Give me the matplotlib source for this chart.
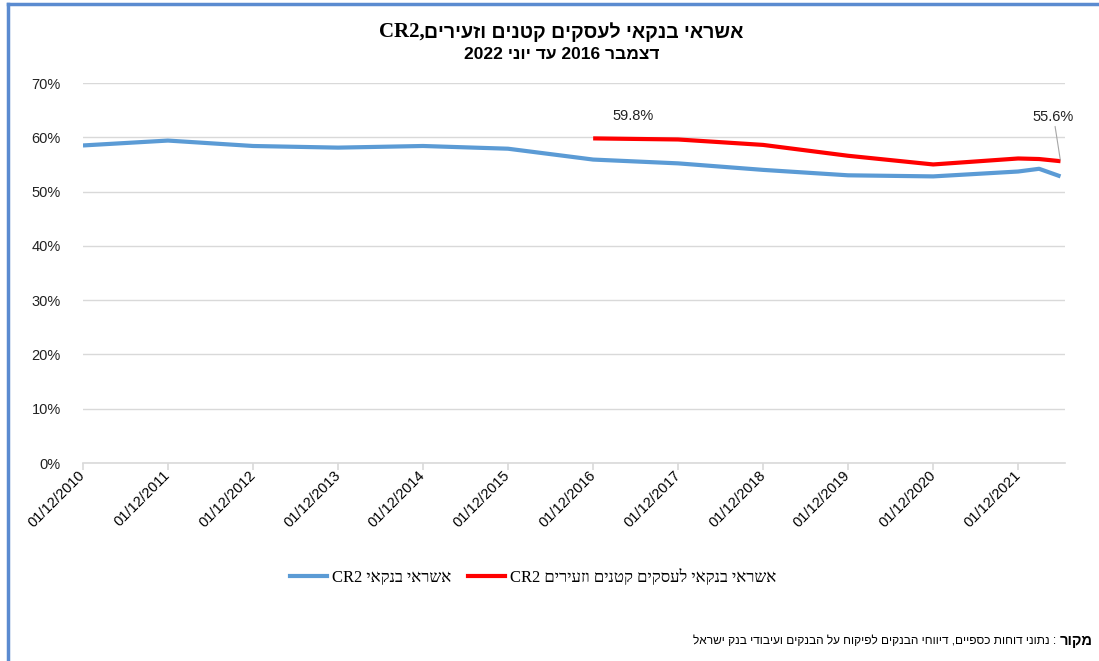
import re
import datetime as dt
import matplotlib
matplotlib.use("Agg")
import matplotlib.pyplot as plt
import matplotlib.dates as mdates
from matplotlib.lines import Line2D
from matplotlib.ticker import FuncFormatter

# נתונים (אחוזים)
blue_dates = [dt.date(y, 12, 1) for y in range(2010, 2022)] + [dt.date(2022, 3, 1), dt.date(2022, 6, 1)]
blue_vals = [58.5, 59.4, 58.4, 58.1, 58.4, 57.9, 55.9, 55.2, 54.0, 53.0, 52.8, 53.7, 54.2, 52.8]

red_dates = [dt.date(y, 12, 1) for y in range(2016, 2022)] + [dt.date(2022, 3, 1), dt.date(2022, 6, 1)]
red_vals = [59.8, 59.6, 58.6, 56.6, 55.0, 56.1, 56.0, 55.6]

tick_dates = [dt.date(y, 12, 1) for y in range(2010, 2022)]

title_latin = "CR2,"
title_hebrew = "אשראי בנקאי לעסקים קטנים וזעירים"
title_2 = "דצמבר 2016 עד יוני 2022"
blue_name = "אשראי בנקאי CR2"
red_name = "אשראי בנקאי לעסקים קטנים וזעירים CR2"
source_bold = "מקור"
source_text = " : נתוני דוחות כספיים, דיווחי הבנקים לפיקוח על הבנקים ועיבודי בנק ישראל"

BLUE = "#5B9BD5"
RED = "#FF0000"
GRID = "#D9D9D9"
SERIF = ["Liberation Serif", "DejaVu Sans"]
SANS = ["Liberation Sans", "DejaVu Sans"]


def visual(s):
    # matplotlib אינו תומך בכיווניות - הופכים את המחרוזת ומשאירים רצפים לטיניים/מספרים
    rev = s[::-1]
    return re.sub(r"[A-Za-z0-9.%/]+", lambda m: m.group(0)[::-1], rev)


fig = plt.figure(figsize=(10.99, 6.61), dpi=100)
ax = fig.add_axes([0.0755, 0.2995, 0.8935, 0.5749])

ax.plot(blue_dates, blue_vals, color=BLUE, lw=3.0, solid_capstyle="butt")
ax.plot(red_dates, red_vals, color=RED, lw=3.0, solid_capstyle="butt")

ax.set_ylim(0, 70)
ax.set_yticks(range(0, 71, 10))
ax.yaxis.set_major_formatter(FuncFormatter(lambda v, p: f"{v:.0f}%"))
ax.set_xlim(dt.date(2010, 12, 1), dt.date(2022, 6, 20))
ax.set_xticks(tick_dates)
ax.xaxis.set_major_formatter(mdates.DateFormatter("%d/%m/%Y"))

ax.grid(axis="y", color=GRID, lw=1.0)
ax.set_axisbelow(True)
for s in ["top", "right", "left"]:
    ax.spines[s].set_visible(False)
ax.spines["bottom"].set_color(GRID)
ax.spines["bottom"].set_linewidth(1.2)
ax.tick_params(axis="y", length=0, pad=16, labelsize=10.5, labelcolor="#222222")
ax.tick_params(axis="x", length=5, color=GRID, width=1.2, labelsize=10.5, pad=2)
for lab in ax.get_yticklabels():
    lab.set_family(SANS)
for lab in ax.get_xticklabels():
    lab.set_rotation(45)
    lab.set_ha("right")
    lab.set_va("center")
    lab.set_rotation_mode("anchor")
    lab.set_family(SANS)

# תוויות ערכים
ax.annotate("59.8%", xy=(red_dates[0], red_vals[0]), xytext=(29, 16), textcoords="offset points",
            ha="center", va="center", fontsize=10.5, family=SANS, color="#222222")
ax.annotate("55.6%", xy=(red_dates[-1], red_vals[-1]), xytext=(-5, 27), textcoords="offset points",
            ha="center", va="bottom", fontsize=10.5, family=SANS, color="#222222",
            arrowprops=dict(arrowstyle="-", color="#A6A6A6", lw=0.8, shrinkA=0, shrinkB=1))

# כותרת
t_lat = fig.text(0, 0.952, title_latin, ha="left", va="center", fontsize=15,
                 fontweight="bold", family=SERIF)
t_heb = fig.text(0, 0.952, visual(title_hebrew), ha="left", va="center", fontsize=14,
                 fontweight="bold", family=SANS)
fig.text(0.511, 0.918, visual(title_2), ha="center", va="center", fontsize=12.5,
         fontweight="bold", family=SANS)

# מקרא
handles = [Line2D([], [], color=BLUE, lw=3.0), Line2D([], [], color=RED, lw=3.0)]
fig.legend(handles, [visual(blue_name), visual(red_name)], loc="center",
           bbox_to_anchor=(0.485, 0.127), ncol=2, frameon=False,
           prop={"family": SERIF, "size": 12}, handlelength=2.2, columnspacing=1.0,
           handletextpad=0.3)

# מקור
t_bold = fig.text(0.994, 0.030, visual(source_bold), ha="right", va="center",
                  fontsize=10.5, fontweight="bold", family=SANS)
fig.canvas.draw()
r = fig.canvas.get_renderer()
W = fig.bbox.width
bb = t_bold.get_window_extent(r)
fig.text(bb.x0 / W, 0.030, visual(source_text), ha="right", va="center",
         fontsize=8.6, family=SANS)

# מיקום שורת הכותרת הראשונה (שני גופנים)
w_lat = t_lat.get_window_extent(r).width
w_heb = t_heb.get_window_extent(r).width
x0 = 561 - (w_lat + w_heb) / 2
t_lat.set_x(x0 / W)
t_heb.set_x((x0 + w_lat) / W)

# מסגרת
fig.add_artist(Line2D([0.0073, 0.0073], [0.0, 0.994], color="#5B8BD0", lw=2.5))
fig.add_artist(Line2D([0.0073, 1.0], [0.994, 0.994], color="#5B8BD0", lw=2.5))

fig.savefig("out.png", dpi=100)
